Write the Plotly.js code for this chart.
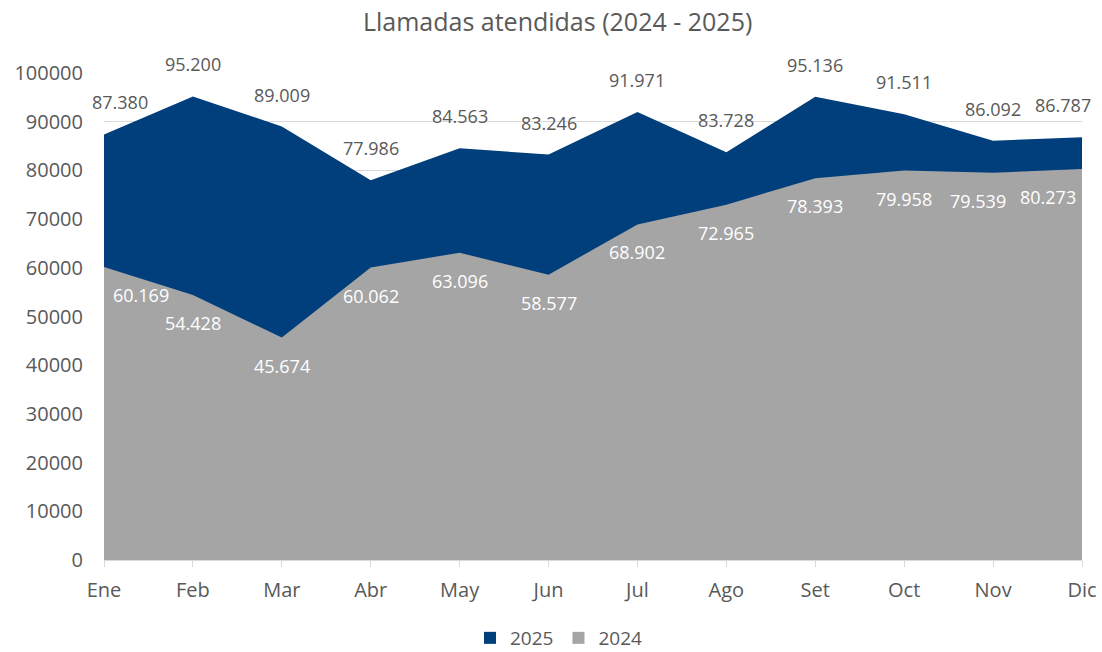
<!DOCTYPE html>
<html><head><meta charset="utf-8">
<script src="https://cdn.plot.ly/plotly-3.0.1.min.js"></script>
<style>body{margin:0;background:#fff}#c{width:1102px;height:652px}</style>
</head><body><div id="c"></div>
<script>
const months = ["Ene","Feb","Mar","Abr","May","Jun","Jul","Ago","Set","Oct","Nov","Dic"];
const v2025 = [87380,95200,89009,77986,84563,83246,91971,83728,95136,91511,86092,86787];
const v2024 = [60169,54428,45674,60062,63096,58577,68902,72965,78393,79958,79539,80273];
const lbl2025 = ["87.380","95.200","89.009","77.986","84.563","83.246","91.971","83.728","95.136","91.511","86.092","86.787"];
const lbl2024 = ["60.169","54.428","45.674","60.062","63.096","58.577","68.902","72.965","78.393","79.958","79.539","80.273"];

const BLUE = "#003f7b", GRAY = "#a5a5a5", TXT = "#595959";
const FONT = "Open Sans";

const traces = [
  {x: months, y: v2025, name: "2025", type: "scatter", mode: "lines", fill: "tozeroy",
   fillcolor: BLUE, line: {width: 0, color: BLUE}, hoverinfo: "y", showlegend: false},
  {x: months, y: v2024, name: "2024", type: "scatter", mode: "lines", fill: "tozeroy",
   fillcolor: GRAY, line: {width: 0, color: GRAY}, hoverinfo: "y", showlegend: false},
  {x: [null], y: [null], name: "2025", type: "scatter", mode: "markers",
   marker: {symbol: "square", size: 12, color: BLUE}},
  {x: [null], y: [null], name: "2024", type: "scatter", mode: "markers",
   marker: {symbol: "square", size: 12, color: GRAY}}
];

const n = months.length;
// horizontal nudges for labels near the plot edges (style only)
const nudge2025 = {0: 16, 11: -19};
const nudge2024 = {0: 37, 10: -15, 11: -34};
const annotations = [];
months.forEach((m, i) => {
  annotations.push({x: m, y: v2025[i], text: lbl2025[i], showarrow: false,
    yshift: 32, xshift: nudge2025[i] || 0, font: {family: FONT, size: 18, color: TXT}});
  annotations.push({x: m, y: v2024[i], text: lbl2024[i], showarrow: false,
    yshift: -28, xshift: nudge2024[i] || 0, font: {family: FONT, size: 18, color: "#ffffff"}});
});

const layout = {
  width: 1102, height: 652,
  margin: {l: 104, r: 20, t: 73, b: 92, autoexpand: false},
  paper_bgcolor: "#fff", plot_bgcolor: "#fff",
  font: {family: FONT, color: TXT, size: 19},
  title: {text: "Llamadas atendidas (2024 - 2025)", x: 0.506, xanchor: "center",
          yref: "container", y: 1 - 22/652, yanchor: "middle",
          font: {family: FONT, size: 25, color: TXT}},
  xaxis: {type: "category", range: [0, n - 1], showgrid: false, zeroline: false,
          showline: true, linecolor: "#d9d9d9", linewidth: 1,
          ticks: "outside", ticklen: 6, tickcolor: "#d9d9d9",
          tickfont: {family: FONT, size: 20, color: TXT}, ticklabelstandoff: 6},
  yaxis: {range: [0, 100000], dtick: 10000, showgrid: true, gridcolor: "#d9d9d9", gridwidth: 1,
          zeroline: false, showline: false, tickformat: "d",
          tickfont: {family: FONT, size: 20, color: TXT}, ticklabelstandoff: 20},
  showlegend: true,
  legend: {orientation: "h", xref: "container", x: 470/1102, xanchor: "left",
           yref: "container", y: 14/652, yanchor: "middle",
           font: {family: FONT, size: 19, color: TXT}, traceorder: "normal", itemwidth: 30},
  annotations: annotations
};

Plotly.newPlot("c", traces, layout, {displayModeBar: false, staticPlot: true});
</script></body></html>
